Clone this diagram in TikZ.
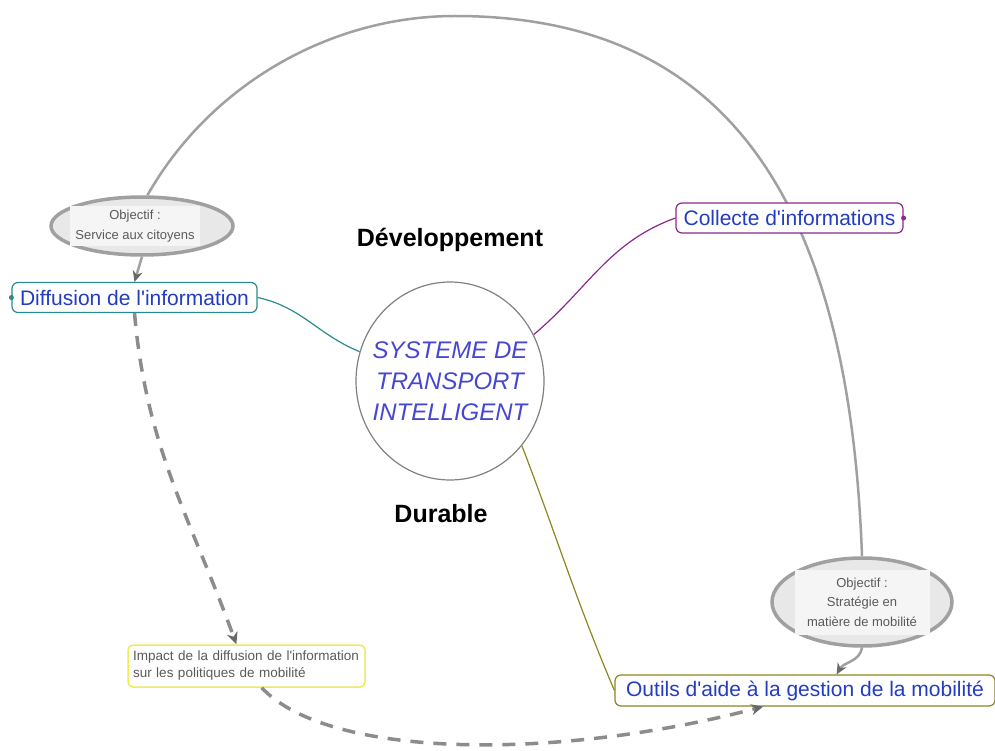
\documentclass[tikz,border=0pt]{standalone}
\usepackage{fontspec}
\setmainfont{Liberation Sans}
\usetikzlibrary{shapes.geometric,arrows.meta}
\pgfdeclarelayer{back}
\pgfsetlayers{back,main}

\definecolor{topicblue}{RGB}{35,60,195}
\definecolor{sysblue}{RGB}{70,70,210}
\definecolor{diffline}{RGB}{40,140,140}
\definecolor{collline}{RGB}{140,40,140}
\definecolor{outilsline}{RGB}{140,135,30}
\definecolor{impactline}{RGB}{240,235,90}
\definecolor{goalgray}{RGB}{160,160,160}
\definecolor{goalfill}{RGB}{232,232,232}
\definecolor{goalinner}{RGB}{245,245,245}
\definecolor{goaltext}{RGB}{90,90,90}
\definecolor{arrowgray}{RGB}{105,105,105}
\definecolor{dashgray}{RGB}{140,140,140}

\begin{document}
\begin{tikzpicture}[x=1pt, y=-1pt,
    topic/.style={draw, rounded corners=6pt, fill=white, line width=1.2pt,
        text=topicblue, font=\fontsize{21}{25}\selectfont,
        minimum height=30pt, inner sep=2pt},
    goal/.style={ellipse, draw=goalgray, line width=3.5pt, fill=goalfill},
    goalbox/.style={fill=goalinner, text=goaltext, align=center,
        font=\fontsize{13}{19.5}\selectfont, inner sep=4pt},
    goallink/.style={goalgray, line width=2.5pt,
        -{Stealth[length=11pt, width=10pt, color=arrowgray]}},
    impactlink/.style={dashgray, line width=3.5pt, dash pattern=on 13pt off 10pt,
        -{Stealth[length=12pt, width=11pt, color=arrowgray]}},
    bigword/.style={font=\bfseries\fontsize{25}{30}\selectfont}
]
    \useasboundingbox (0,0) rectangle (995,751);

    % --- noeud central ---
    \node[ellipse, draw=gray, line width=1.2pt, minimum width=188pt, minimum height=198pt,
        label={[text=sysblue, align=center, font=\itshape\fontsize{24}{31}\selectfont]center:{SYSTEME DE\\TRANSPORT\\INTELLIGENT}}]
        (sys) at (450,381) {};
    \node[bigword] (dev) at (450,240) {Développement};
    \node[bigword] (dur) at (441,514) {Durable};

    % --- branches ---
    \node[topic, draw=diffline, minimum width=245pt] (diff) at (134.5,297.5) {Diffusion de l\textquotesingle information};
    \node[topic, draw=collline, minimum width=227pt] (coll) at (789.5,218) {Collecte d\textquotesingle informations};
    \node[topic, draw=outilsline, minimum width=380pt, minimum height=31pt] (outils) at (805,690.5)
        {Outils d\textquotesingle aide à la gestion de la mobilité};
    \node[draw=impactline, line width=1.5pt, rounded corners=5pt, fill=white, text=goaltext,
        font=\fontsize{13.5}{17}\selectfont, text width=227pt, align=left, inner sep=5pt,
        minimum height=42pt] (impact) at (246.5,666)
        {Impact de la diffusion de l\textquotesingle information\\sur les politiques de mobilité};

    % --- objectifs ---
    \node[goal, minimum width=182pt, minimum height=58pt,
        label={[goalbox, xshift=-7pt, minimum width=130pt, minimum height=38pt]center:{Objectif :\\Service aux citoyens}}]
        (obj1) at (142,226) {};
    \node[goal, minimum width=180pt, minimum height=88pt,
        label={[goalbox, minimum width=135pt, minimum height=65pt]center:{Objectif :\\Stratégie en\\matière de mobilité}}]
        (obj2) at (862,602) {};

    % --- liens (sous les noeuds) ---
    \begin{pgfonlayer}{back}
        \draw[diffline, line width=1.2pt] (diff.east) to[out=-12, in=158] (sys.162);
        \draw[collline, line width=1.2pt] (sys.29) to[out=40, in=200] (coll.west);
        \draw[outilsline, line width=1.2pt] (sys.-42) to[out=-69, in=113] (outils.west);
        \draw[goalgray, line width=2.5pt] (obj1.80) .. controls (210,85) and (330,16) .. (455,16)
            .. controls (740,16) and (850,220) .. (obj2.north);
    \end{pgfonlayer}
    \fill[diffline] (diff.west) circle (2.5);
    \fill[collline] (coll.east) circle (2.5);

    % --- fleches ---
    \draw[goallink] (obj1.south) -- (diff.north);
    \draw[goallink] (obj2.south) to[out=-100, in=60] (outils.27);
    \draw[impactlink] (diff.south) to[out=-85, in=110] (impact.115);
    \draw[impactlink] (impact.-55) .. controls (330,760) and (560,760) .. (outils.-159);
\end{tikzpicture}
\end{document}
